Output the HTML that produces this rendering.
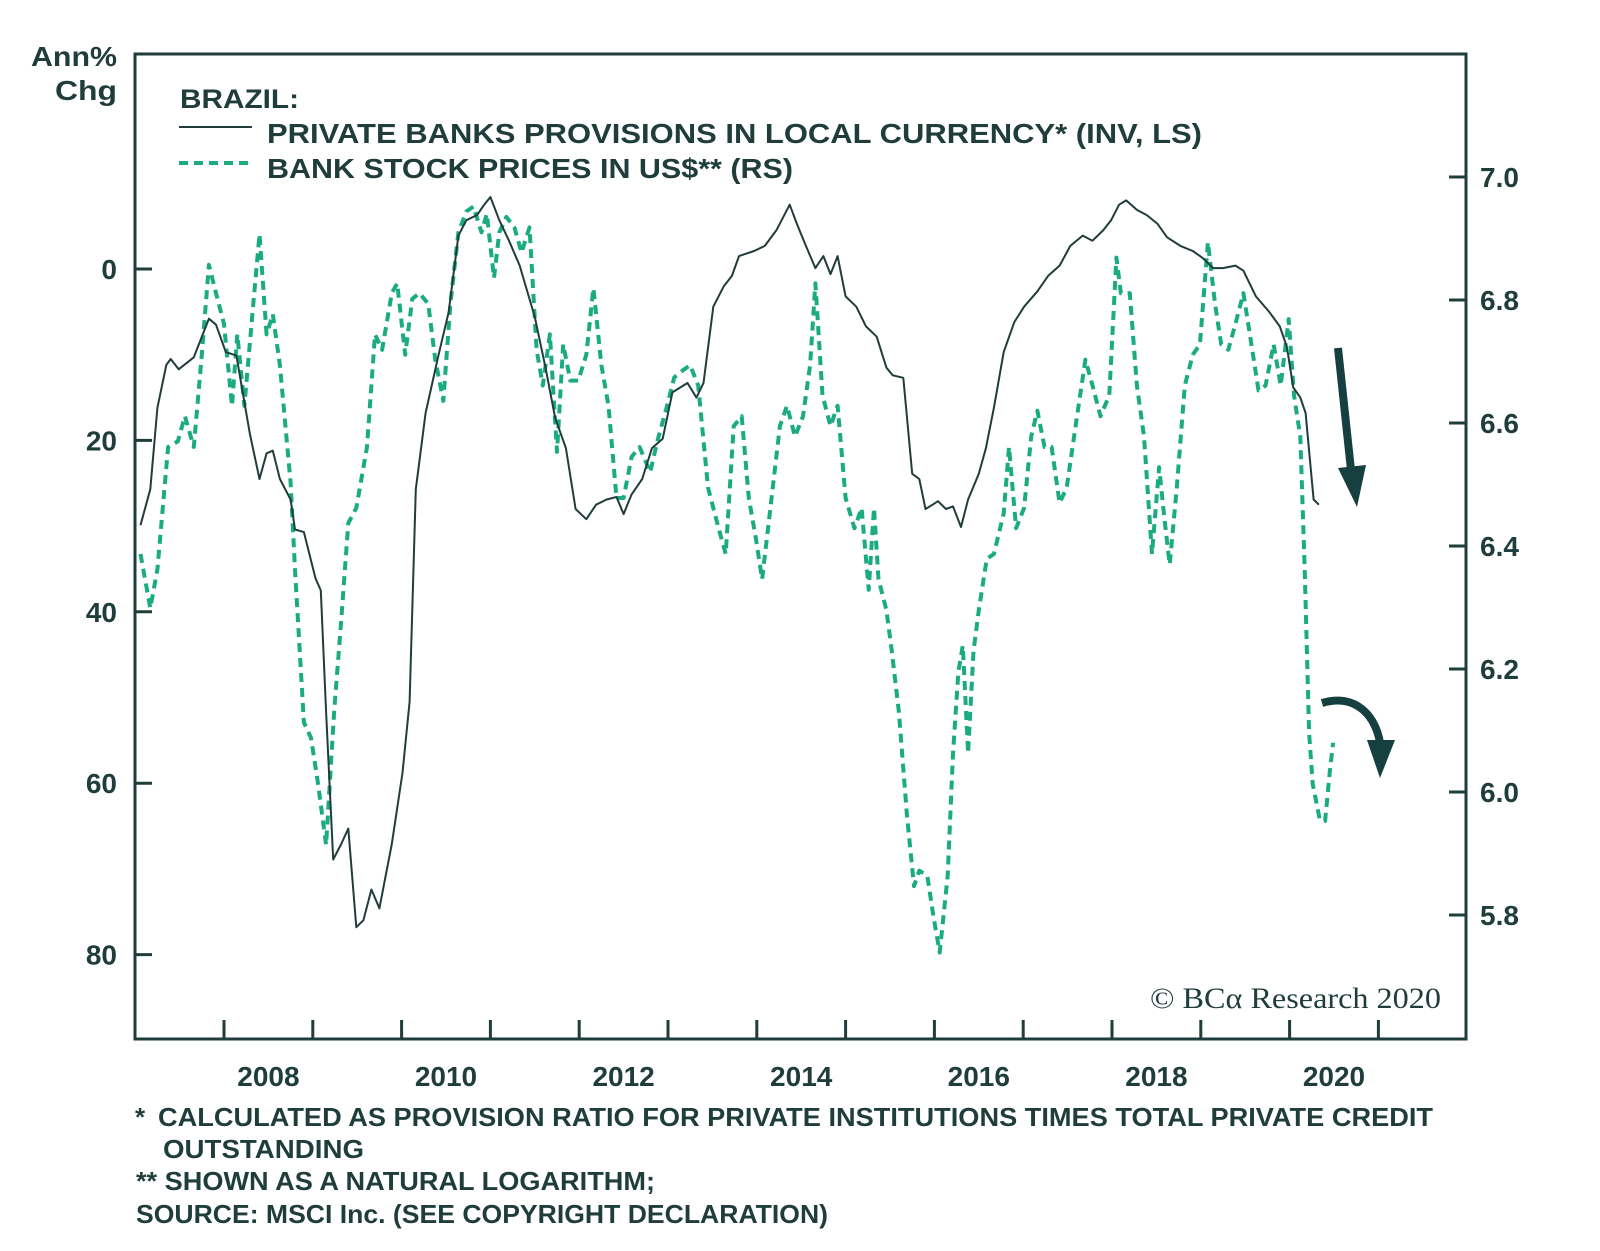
<!DOCTYPE html>
<html><head><meta charset="utf-8"><style>
body{margin:0;background:#fff;}
svg{display:block;font-family:"Liberation Sans",sans-serif;}
.t{fill:#1f3d3b;font-weight:bold;}
</style></head><body>
<svg id="chart" width="1600" height="1251" viewBox="0 0 1600 1251">
<rect x="135" y="54" width="1331" height="985" fill="none" stroke="#1f3d3b" stroke-width="3"/>
<text class="t" x="117" y="66" font-size="28" text-anchor="end" textLength="86" lengthAdjust="spacingAndGlyphs">Ann%</text>
<text class="t" x="117" y="100" font-size="28" text-anchor="end" textLength="62" lengthAdjust="spacingAndGlyphs">Chg</text>
<g>
<text class="t" x="180" y="108" font-size="27" textLength="119" lengthAdjust="spacingAndGlyphs">BRAZIL:</text>
<line x1="179" y1="127" x2="252" y2="127" stroke="#1f3d3b" stroke-width="2"/>
<text class="t" x="267" y="143" font-size="28" textLength="935" lengthAdjust="spacingAndGlyphs">PRIVATE BANKS PROVISIONS IN LOCAL CURRENCY* (INV, LS)</text>
<line x1="179" y1="163" x2="252" y2="163" stroke="#1aab80" stroke-width="4" stroke-dasharray="9,6"/>
<text class="t" x="267" y="178" font-size="28" textLength="526" lengthAdjust="spacingAndGlyphs">BANK STOCK PRICES IN US$** (RS)</text>
</g>
<g id="axes"></g>
<g id="series"></g>
<path d="M1338,348 L1351,470" stroke="#163f3f" stroke-width="8" fill="none"/>
<polygon points="1338,468 1366,465 1357,507" fill="#163f3f"/>
<path d="M1322,703 C1355,693 1378,715 1381,750" stroke="#163f3f" stroke-width="8" fill="none"/>
<polygon points="1367,740 1395,740 1380,778" fill="#163f3f"/>
<text x="1150" y="1008" font-family="Liberation Serif,serif" font-size="30" fill="#1f3d3b" textLength="291" lengthAdjust="spacingAndGlyphs">© BCα Research 2020</text>
<g class="t" font-size="26">
<text x="135" y="1126">*</text>
<text x="158" y="1126" textLength="1275" lengthAdjust="spacingAndGlyphs">CALCULATED AS PROVISION RATIO FOR PRIVATE INSTITUTIONS TIMES TOTAL PRIVATE CREDIT</text>
<text x="163" y="1158" textLength="201" lengthAdjust="spacingAndGlyphs">OUTSTANDING</text>
<text x="136" y="1190" textLength="519" lengthAdjust="spacingAndGlyphs">** SHOWN AS A NATURAL LOGARITHM;</text>
<text x="136" y="1223" textLength="692" lengthAdjust="spacingAndGlyphs">SOURCE: MSCI Inc. (SEE COPYRIGHT DECLARATION)</text>
</g>
</svg>
<script>
const leftTicks=[0,20,40,60,80];
const rightTicks=[5.8,6.0,6.2,6.4,6.6,6.8,7.0];
const yearTicks=[2008,2009,2010,2011,2012,2013,2014,2015,2016,2017,2018,2019,2020,2021];
const yearLabels=[2008,2010,2012,2014,2016,2018,2020];
const provDates=[2007.06,2007.17,2007.25,2007.35,2007.40,2007.49,2007.66,2007.83,2007.91,2008.02,2008.14,2008.29,2008.40,2008.48,2008.55,2008.63,2008.75,2008.80,2008.90,2009.03,2009.09,2009.15,2009.23,2009.32,2009.40,2009.49,2009.57,2009.66,2009.75,2009.89,2010.01,2010.09,2010.16,2010.27,2010.41,2010.53,2010.64,2010.73,2010.85,2010.93,2011.00,2011.10,2011.21,2011.33,2011.50,2011.62,2011.73,2011.85,2011.96,2012.08,2012.19,2012.31,2012.42,2012.50,2012.59,2012.71,2012.82,2012.94,2013.05,2013.22,2013.32,2013.40,2013.51,2013.63,2013.72,2013.80,2013.97,2014.09,2014.22,2014.37,2014.45,2014.54,2014.66,2014.75,2014.83,2014.91,2015.00,2015.12,2015.23,2015.35,2015.46,2015.53,2015.65,2015.75,2015.83,2015.90,2015.98,2016.04,2016.13,2016.21,2016.30,2016.38,2016.50,2016.58,2016.67,2016.78,2016.90,2017.01,2017.16,2017.28,2017.41,2017.53,2017.67,2017.78,2017.90,2017.99,2018.08,2018.16,2018.28,2018.39,2018.51,2018.62,2018.77,2018.91,2019.02,2019.14,2019.25,2019.39,2019.48,2019.62,2019.77,2019.89,2019.97,2020.04,2020.12,2020.18,2020.27,2020.33];
const provValues=[29.9,25.7,16.2,11.2,10.5,11.7,10.3,5.8,6.5,9.7,10.1,19.2,24.5,21.5,21.2,24.5,26.9,30.4,30.7,36.1,37.5,51.7,68.9,67.1,65.3,76.8,76.0,72.4,74.6,67.1,58.8,50.5,25.7,16.8,10.3,5.0,-3.9,-5.7,-6.3,-7.5,-8.4,-5.7,-3.3,-0.4,5.6,11.5,17.4,20.9,28.0,29.2,27.5,26.9,26.6,28.6,26.3,24.5,20.9,19.8,14.4,13.3,15.0,13.3,4.4,2.0,0.8,-1.5,-2.1,-2.7,-4.5,-7.5,-5.3,-3.0,-0.1,-1.5,0.6,-1.5,3.2,4.4,6.7,7.9,11.5,12.4,12.7,23.9,24.5,28.0,27.5,27.1,28.0,27.7,30.1,26.9,23.9,20.9,16.2,9.7,6.2,4.4,2.6,0.8,-0.4,-2.7,-3.9,-3.3,-4.5,-5.7,-7.5,-8.0,-6.9,-6.3,-5.3,-3.7,-2.7,-2.1,-1.3,-0.1,-0.1,-0.4,0.2,3.2,5.0,6.7,9.1,13.8,15.0,16.8,26.9,27.5];
const stockDates=[2007.06,2007.17,2007.25,2007.37,2007.48,2007.56,2007.66,2007.75,2007.83,2007.91,2008.00,2008.09,2008.15,2008.23,2008.32,2008.40,2008.48,2008.55,2008.63,2008.75,2008.80,2008.90,2008.98,2009.06,2009.15,2009.24,2009.32,2009.40,2009.49,2009.61,2009.70,2009.78,2009.89,2009.95,2010.04,2010.12,2010.20,2010.30,2010.38,2010.47,2010.55,2010.64,2010.73,2010.81,2010.90,2010.96,2011.04,2011.10,2011.18,2011.27,2011.35,2011.44,2011.52,2011.59,2011.67,2011.75,2011.82,2011.90,2011.99,2012.08,2012.16,2012.25,2012.33,2012.42,2012.50,2012.59,2012.68,2012.80,2012.88,2012.99,2013.07,2013.17,2013.25,2013.34,2013.45,2013.57,2013.65,2013.74,2013.83,2013.91,2013.99,2014.06,2014.14,2014.26,2014.34,2014.43,2014.52,2014.60,2014.66,2014.74,2014.83,2014.91,2015.00,2015.10,2015.18,2015.26,2015.32,2015.37,2015.46,2015.52,2015.60,2015.69,2015.77,2015.83,2015.92,2015.99,2016.06,2016.15,2016.21,2016.27,2016.32,2016.38,2016.44,2016.50,2016.59,2016.67,2016.78,2016.84,2016.92,2017.01,2017.09,2017.16,2017.24,2017.32,2017.41,2017.49,2017.59,2017.70,2017.78,2017.87,2017.97,2018.05,2018.10,2018.20,2018.28,2018.36,2018.45,2018.53,2018.59,2018.65,2018.73,2018.82,2018.91,2018.99,2019.08,2019.16,2019.23,2019.31,2019.39,2019.48,2019.57,2019.65,2019.73,2019.82,2019.90,2019.99,2020.05,2020.12,2020.17,2020.22,2020.26,2020.34,2020.40,2020.45,2020.49];
const stockValues=[6.387,6.299,6.362,6.561,6.570,6.611,6.561,6.711,6.857,6.811,6.761,6.628,6.744,6.628,6.777,6.907,6.744,6.777,6.694,6.503,6.362,6.113,6.088,6.013,5.914,6.130,6.279,6.437,6.462,6.561,6.744,6.719,6.811,6.827,6.711,6.802,6.811,6.794,6.703,6.636,6.794,6.910,6.944,6.952,6.910,6.940,6.836,6.910,6.935,6.918,6.877,6.918,6.719,6.661,6.744,6.553,6.728,6.669,6.669,6.711,6.819,6.694,6.628,6.478,6.478,6.545,6.561,6.520,6.570,6.628,6.674,6.686,6.694,6.661,6.495,6.429,6.387,6.595,6.611,6.478,6.412,6.346,6.445,6.595,6.628,6.578,6.611,6.694,6.827,6.645,6.595,6.628,6.478,6.429,6.462,6.329,6.462,6.346,6.296,6.229,6.130,5.963,5.847,5.872,5.864,5.797,5.739,5.864,6.063,6.196,6.238,6.063,6.229,6.296,6.379,6.387,6.453,6.561,6.429,6.462,6.578,6.620,6.561,6.561,6.470,6.495,6.595,6.703,6.661,6.611,6.645,6.869,6.811,6.811,6.661,6.578,6.387,6.528,6.445,6.370,6.495,6.661,6.711,6.728,6.894,6.794,6.728,6.719,6.761,6.811,6.728,6.653,6.661,6.728,6.661,6.769,6.645,6.578,6.362,6.096,6.013,5.955,5.953,6.030,6.080];

const NS='http://www.w3.org/2000/svg';
const xS=y=>224+(y-2008)*88.8;
const yL=v=>269+v*8.57;
const yR=r=>792-(r-6)*615;
const axes=document.getElementById('axes');
const series=document.getElementById('series');
function mk(tag,attrs,parent){const e=document.createElementNS(NS,tag);for(const k in attrs)e.setAttribute(k,attrs[k]);parent.appendChild(e);return e;}
leftTicks.forEach(v=>{
  const l=mk('line',{x1:135,x2:152,y1:yL(v),y2:yL(v),stroke:'#1f3d3b','stroke-width':3},axes);
  
  
  const t=mk('text',{x:117,y:yL(v)+10,'font-size':28,'text-anchor':'end',class:'t'},axes);
  t.textContent=v;
  
  
});
rightTicks.forEach(v=>{
  const l=mk('line',{x1:1449,x2:1466,y1:yR(v),y2:yR(v),stroke:'#1f3d3b','stroke-width':3},axes);
  
  
  const t=mk('text',{x:1480,y:yR(v)+10,'font-size':28,class:'t'},axes);
  t.textContent=v.toFixed(1);
  
  
});
yearTicks.forEach(y=>{
  const l=mk('line',{x1:xS(y),x2:xS(y),y1:1039,y2:1020,stroke:'#1f3d3b','stroke-width':3},axes);
  
  
});
yearLabels.forEach(y=>{
  const t=mk('text',{x:xS(y+0.5),y:1086,'font-size':28,'text-anchor':'middle',class:'t'},axes);
  t.textContent=y;
  
  
});
const sp=mk('path',{d:stockDates.map((d,i)=>(i?'L':'M')+xS(d).toFixed(1)+','+yR(stockValues[i]).toFixed(1)).join(''),fill:'none',stroke:'#1aab80','stroke-width':4,'stroke-dasharray':'9,6','stroke-linejoin':'round'},series);


const pp=mk('path',{d:provDates.map((d,i)=>(i?'L':'M')+xS(d).toFixed(1)+','+yL(provValues[i]).toFixed(1)).join(''),fill:'none',stroke:'#1f3d3b','stroke-width':2,'stroke-linejoin':'round'},series);


</script>
</body></html>
